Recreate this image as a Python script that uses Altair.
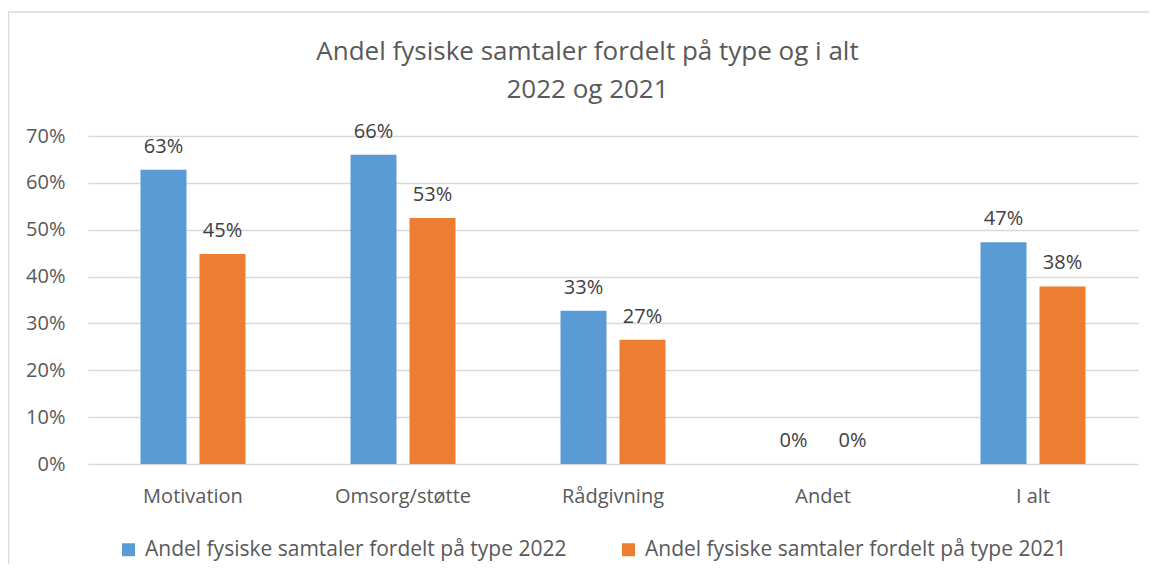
import altair as alt
import pandas as pd

categories = ["Motivation", "Omsorg/støtte", "Rådgivning", "Andet", "I alt"]
series_names = ["Andel fysiske samtaler fordelt på type 2022",
                "Andel fysiske samtaler fordelt på type 2021"]
values_2022 = [62.8, 66.0, 32.7, 0.0, 47.3]
values_2021 = [44.8, 52.5, 26.5, 0.0, 37.9]
colors = ["#5B9BD5", "#ED7D31"]
y_ticks = [0, 10, 20, 30, 40, 50, 60, 70]
title_line1 = "Andel fysiske samtaler fordelt på type og i alt"
title_line2 = "2022 og 2021"

rows = []
for c, a, b in zip(categories, values_2022, values_2021):
    rows.append({"kategori": c, "serie": series_names[0], "andel": a})
    rows.append({"kategori": c, "serie": series_names[1], "andel": b})
df = pd.DataFrame(rows)

FONT = "Open Sans"

x_enc = alt.X("kategori:N", sort=categories,
              scale=alt.Scale(paddingInner=0.5, paddingOuter=0.25),
              axis=alt.Axis(title=None, labelAngle=0, domain=False, ticks=False,
                            labelPadding=22, labelFontSize=20, labelColor="#595959",
                            labelFont=FONT))
xoff_enc = alt.XOffset("serie:N", sort=series_names,
                       scale=alt.Scale(paddingInner=0.22))
y_enc = alt.Y("andel:Q", scale=alt.Scale(domain=[0, 70], nice=False),
              axis=alt.Axis(title=None, values=y_ticks, labelExpr="datum.value + '%'",
                            domain=False, ticks=False, labelPadding=23,
                            labelFontSize=20, labelColor="#595959", labelFont=FONT,
                            gridColor="#d9d9d9", gridWidth=1.5))

base = alt.Chart(df)

bars = base.mark_bar().encode(
    x=x_enc,
    xOffset=xoff_enc,
    y=y_enc,
    color=alt.Color("serie:N", sort=series_names,
                    scale=alt.Scale(domain=series_names, range=colors),
                    legend=alt.Legend(title=None, orient="none", legendX=30, legendY=403,
                                      direction="horizontal", symbolType="square",
                                      symbolSize=169, symbolStrokeWidth=0,
                                      labelFontSize=21, labelColor="#595959",
                                      labelFont=FONT, labelOffset=6,
                                      columnPadding=51, labelLimit=700)),
)

labels = base.mark_text(baseline="bottom", dy=-13, fontSize=20, color="#404040",
                        font=FONT).encode(
    x=alt.X("kategori:N", sort=categories),
    xOffset=alt.XOffset("serie:N", sort=series_names),
    y=alt.Y("andel:Q"),
    text=alt.Text("label:N"),
).transform_calculate(label="format(datum.andel, '.0f') + '%'")

border = alt.Chart(pd.DataFrame({"b": [0]})).mark_rect(
    fillOpacity=0, stroke="#d9d9d9", strokeWidth=1.5
).encode(x=alt.value(-79.5), x2=alt.value(1200), y=alt.value(-124), y2=alt.value(600))

t1 = alt.Chart(pd.DataFrame({"t": [title_line1]})).mark_text(
    fontSize=26, font=FONT, color="#595959", baseline="middle", align="center"
).encode(text="t:N", x=alt.value(499.5), y=alt.value(-84))
t2 = alt.Chart(pd.DataFrame({"t": [title_line2]})).mark_text(
    fontSize=26, font=FONT, color="#595959", baseline="middle", align="center"
).encode(text="t:N", x=alt.value(499.5), y=alt.value(-46))

chart = alt.layer(border, bars, labels, t1, t2).properties(
    width=1050, height=328,
    background="white",
    autosize=alt.AutoSizeParams(type="none"),
    padding={"left": 80, "top": 128, "right": 11, "bottom": 100},
).configure_view(strokeWidth=0, stroke="transparent")

chart.save("out.html", embed_options={"renderer": "svg", "actions": False})
